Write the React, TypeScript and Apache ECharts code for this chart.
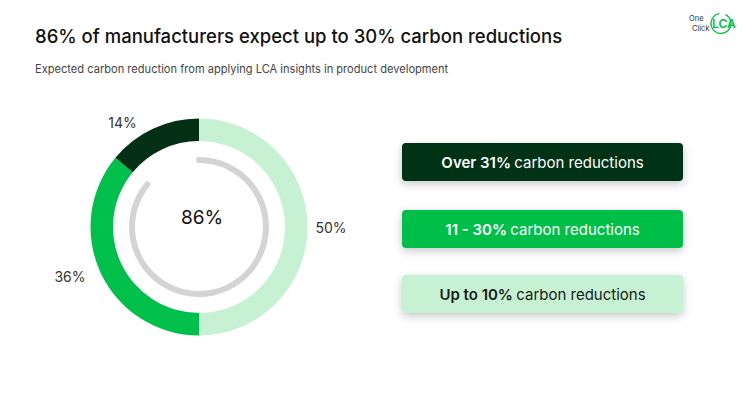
import React, { useEffect, useRef } from "react";
import * as echarts from "echarts";

const categories = ["Up to 10%", "11 - 30%", "Over 31%"];
const shares = [50, 36, 14];
const headline = 86;
const boxOrder = [2, 1, 0];
const colors = ["#C6F2D3", "#00BF4A", "#033014"];
const boxText = ["#1A1A1A", "#FFFFFF", "#FFFFFF"];
const labelDist = [1, 9, 13];

const FONT = "Inter, 'Open Sans', sans-serif";

export default function App() {
  const ref = useRef<HTMLDivElement>(null);
  useEffect(() => {
    if (!ref.current) return;
    const chart = echarts.init(ref.current, null, { renderer: "svg" });
    const cx = 199, cy = 227;
    const boxY = [143, 210, 275];
    const boxes: any[] = [];
    boxOrder.forEach((ci, k) => {
      boxes.push({
        type: "rect",
        shape: { x: 402, y: boxY[k], width: 281, height: 38, r: 4 },
        style: {
          fill: colors[ci],
          shadowBlur: 8,
          shadowColor: "rgba(0,0,0,0.22)",
          shadowOffsetY: 3,
        },
      });
      boxes.push({
        type: "text",
        x: 542.5,
        y: boxY[k] + 19,
        style: {
          text: `{b|${categories[ci]}} {r|carbon reductions}`,
          align: "center",
          verticalAlign: "middle",
          rich: {
            b: { fontFamily: FONT, fontSize: 15, fontWeight: 600, fill: boxText[ci] },
            r: { fontFamily: FONT, fontSize: 15, fontWeight: 400, fill: boxText[ci] },
          },
        },
      });
    });

    chart.setOption({
      animation: false,
      title: [
        {
          text: "86% of manufacturers expect up to 30% carbon reductions",
          left: 30,
          top: 21,
          textStyle: { fontFamily: FONT, fontSize: 18.5, fontWeight: 500, color: "#111" },
        },
        {
          text: "Expected carbon reduction from applying LCA insights in product development",
          left: 30,
          top: 58,
          textStyle: { fontFamily: FONT, fontSize: 11.1, fontWeight: 400, color: "#444" },
        },
      ],
      series: [
        {
          type: "pie",
          center: [cx, cy],
          radius: [86, 108.5],
          startAngle: 90,
          clockwise: true,
          silent: true,
          itemStyle: { borderWidth: 0 },
          label: {
            show: true,
            position: "outside",
            formatter: "{c}%",
            fontFamily: FONT,
            fontSize: 14,
            color: "#333",
          },
          labelLine: { show: false, length: 7, length2: 0 },
          data: categories.map((n, i) => ({
            name: n,
            value: shares[i],
            itemStyle: { color: colors[i] },
            label: { distanceToLabelLine: labelDist[i] },
          })),
        },
        {
          type: "gauge",
          center: [cx, cy],
          radius: 70,
          startAngle: 90,
          endAngle: -270,
          min: 0,
          max: 100,
          silent: true,
          progress: { show: true, roundCap: true, width: 6, itemStyle: { color: "#D4D4D4" } },
          axisLine: { show: false, lineStyle: { width: 6 } },
          axisTick: { show: false },
          splitLine: { show: false },
          axisLabel: { show: false },
          pointer: { show: false },
          anchor: { show: false },
          title: { show: false },
          detail: {
            show: true,
            formatter: "{value}%",
            offsetCenter: [3, -10],
            fontFamily: FONT,
            fontSize: 19,
            fontWeight: 400,
            color: "#111",
          },
          data: [{ value: headline }],
        },
      ],
      graphic: [
        ...boxes,
        {
          type: "text",
          x: 689,
          y: 14,
          style: { text: "One", fontFamily: FONT, fontSize: 7.5, fill: "#333" },
        },
        {
          type: "text",
          x: 692,
          y: 24,
          style: { text: "Click", fontFamily: FONT, fontSize: 7.5, fill: "#333" },
        },
        {
          type: "text",
          x: 712,
          y: 17,
          style: { text: "LCA", fontFamily: FONT, fontSize: 12, fontWeight: 600, fill: "#00BF4A" },
        },
        {
          type: "arc",
          shape: { cx: 721, cy: 23.5, r: 10, startAngle: -Math.PI * 0.35, endAngle: Math.PI * 1.45 },
          style: { stroke: "#00BF4A", lineWidth: 1.3, fill: "none" },
        },
      ],
    });
    return () => chart.dispose();
  }, []);
  return (
    <div
      ref={ref}
      style={{ position: "fixed", left: 0, top: 0, width: 755, height: 399, background: "#fff" }}
    />
  );
}
